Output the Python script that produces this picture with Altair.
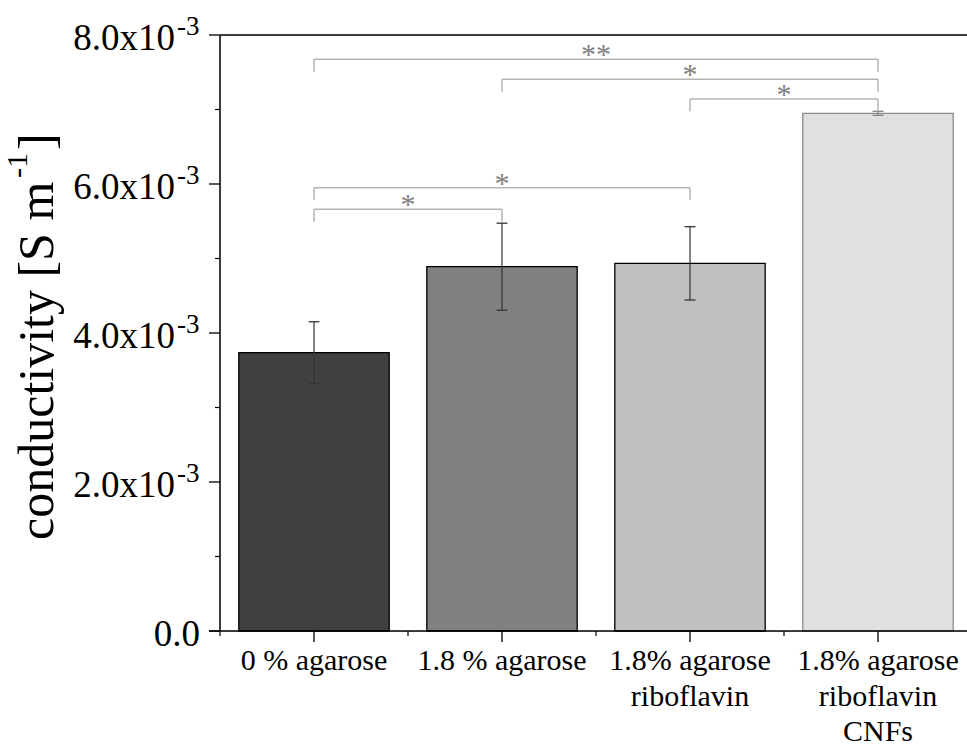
import altair as alt
import pandas as pd

# ---- data ----
categories = ["0 % agarose", "1.8 % agarose", "1.8% agarose\nriboflavin", "1.8% agarose\nriboflavin\nCNFs"]
positions = [1, 2, 3, 4]
conductivity = [3.736e-3, 4.890e-3, 4.935e-3, 6.949e-3]
std_dev = [0.415e-3, 0.584e-3, 0.492e-3, 0.027e-3]

y_tick_values = [0.0, 0.002, 0.004, 0.006, 0.008]
y_tick_base = ["0.0", "2.0x10", "4.0x10", "6.0x10", "8.0x10"]
y_tick_exp = ["", "-3", "-3", "-3", "-3"]
y_minor_values = [0.001, 0.003, 0.005, 0.007]
x_minor_values = [0.5, 1.5, 2.5, 3.5]

br_start = [1, 2, 3, 1, 1]
br_end = [4, 4, 4, 3, 2]
br_level = [7.674e-3, 7.405e-3, 7.141e-3, 5.950e-3, 5.660e-3]
br_label = ["**", "*", "*", "*", "*"]

# ---- styles ----
fill_colors = ["#404040", "#808080", "#c0c0c0", "#e0e0e0"]
stroke_colors = ["#000000", "#000000", "#000000", "#8c8c8c"]
err_colors = ["#333333", "#333333", "#333333", "#808080"]
FONT = "Liberation Serif"
W, H = 747, 596

bars = pd.DataFrame({
    "cat": categories, "pos": positions, "val": conductivity, "sd": std_dev,
    "fill": fill_colors, "stroke": stroke_colors, "ecol": err_colors,
})
yticks = pd.DataFrame({"v": y_tick_values, "base": y_tick_base, "exp": y_tick_exp})
yminor = pd.DataFrame({"v": y_minor_values})
xminor = pd.DataFrame({"v": x_minor_values})
xmajor = pd.DataFrame({"v": positions})
brackets = pd.DataFrame({"s": br_start, "e": br_end, "lvl": br_level, "lab": br_label})
one = pd.DataFrame({"a": [0]})

xscale = alt.Scale(domain=[0.5, 0.5 + W / 188.0], nice=False, zero=False)
yscale = alt.Scale(domain=[0, 0.008], nice=False, zero=False)

bar_layer = alt.Chart(bars).transform_calculate(
    x0="datum.pos - 0.4", x1="datum.pos + 0.4", z="0"
).mark_bar(strokeWidth=1.3).encode(
    x=alt.X("x0:Q", scale=xscale, axis=None),
    x2="x1:Q",
    y=alt.Y("val:Q", scale=yscale, axis=None),
    y2="z:Q",
    color=alt.Color("fill:N", scale=None),
    stroke=alt.Stroke("stroke:N", scale=None),
)

err_line = alt.Chart(bars).transform_calculate(
    lo="datum.val - datum.sd", hi="datum.val + datum.sd"
).mark_rule(strokeWidth=1.2).encode(
    x=alt.X("pos:Q", scale=xscale, axis=None),
    y=alt.Y("lo:Q", scale=yscale, axis=None),
    y2="hi:Q",
    color=alt.Color("ecol:N", scale=None),
)

err_caps = alt.Chart(bars).transform_calculate(
    lo="datum.val - datum.sd", hi="datum.val + datum.sd"
).transform_fold(["lo", "hi"], as_=["k", "yv"]).transform_calculate(
    c0="datum.pos - 0.029", c1="datum.pos + 0.029"
).mark_rule(strokeWidth=1.3).encode(
    x=alt.X("c0:Q", scale=xscale, axis=None),
    x2="c1:Q",
    y=alt.Y("yv:Q", scale=yscale, axis=None),
    color=alt.Color("ecol:N", scale=None),
)

# axis lines and frame
y_domain = alt.Chart(one).mark_rule(color="black", strokeWidth=1.5).encode(
    x=alt.value(0), y=alt.value(0), y2=alt.value(H))
x_domain = alt.Chart(one).mark_rule(color="black", strokeWidth=1.5).encode(
    x=alt.value(-11), x2=alt.value(W), y=alt.value(H))
top_border = alt.Chart(one).mark_rule(color="black", strokeWidth=1.6).encode(
    x=alt.value(0), x2=alt.value(W), y=alt.value(0))

ymaj_ticks = alt.Chart(yticks).mark_rule(color="black", strokeWidth=1.3).encode(
    y=alt.Y("v:Q", scale=yscale, axis=None), x=alt.value(-11), x2=alt.value(0))
ymin_ticks = alt.Chart(yminor).mark_rule(color="black", strokeWidth=1.2).encode(
    y=alt.Y("v:Q", scale=yscale, axis=None), x=alt.value(-5), x2=alt.value(0))
xmaj_ticks = alt.Chart(xmajor).mark_rule(color="black", strokeWidth=1.3).encode(
    x=alt.X("v:Q", scale=xscale, axis=None), y=alt.value(H), y2=alt.value(H + 11))
xmin_ticks = alt.Chart(xminor).mark_rule(color="black", strokeWidth=1.2).encode(
    x=alt.X("v:Q", scale=xscale, axis=None), y=alt.value(H), y2=alt.value(H + 5))

ylab_base = alt.Chart(yticks).transform_filter("datum.exp != ''").mark_text(
    font=FONT, fontSize=37, align="right", baseline="alphabetic", dy=15, color="black"
).encode(y=alt.Y("v:Q", scale=yscale, axis=None), x=alt.value(-45), text="base:N")
ylab_exp = alt.Chart(yticks).transform_filter("datum.exp != ''").mark_text(
    font=FONT, fontSize=27, align="left", baseline="alphabetic", dy=0, color="black"
).encode(y=alt.Y("v:Q", scale=yscale, axis=None), x=alt.value(-43), text="exp:N")
ylab_zero = alt.Chart(yticks).transform_filter("datum.exp == ''").mark_text(
    font=FONT, fontSize=37, align="right", baseline="alphabetic", dy=15, color="black"
).encode(y=alt.Y("v:Q", scale=yscale, axis=None), x=alt.value(-20), text="base:N")

xlabels = alt.Chart(bars).mark_text(
    font=FONT, fontSize=30, align="center", baseline="alphabetic",
    lineBreak="\n", lineHeight=35.5, color="black"
).encode(x=alt.X("pos:Q", scale=xscale, axis=None), y=alt.value(635), text="cat:N")

title_df = pd.DataFrame({"t": ["conductivity [S m"], "s": ["-1"], "b": ["]"]})
title_main = alt.Chart(title_df).mark_text(
    font=FONT, fontSize=50, angle=270, align="left", baseline="alphabetic", color="black"
).encode(x=alt.value(-167), y=alt.value(505), text="t:N")
title_sup = alt.Chart(title_df).mark_text(
    font=FONT, fontSize=30, angle=270, align="left", baseline="alphabetic", color="black"
).encode(x=alt.value(-193), y=alt.value(143), text="s:N")
title_end = alt.Chart(title_df).mark_text(
    font=FONT, fontSize=50, angle=270, align="left", baseline="alphabetic", color="black"
).encode(x=alt.value(-167), y=alt.value(115), text="b:N")

br_h = alt.Chart(brackets).mark_rule(color="#b4b4b4", strokeWidth=1.5).encode(
    x=alt.X("s:Q", scale=xscale, axis=None), x2="e:Q",
    y=alt.Y("lvl:Q", scale=yscale, axis=None),
)
br_legs = alt.Chart(brackets).transform_fold(["s", "e"], as_=["side", "xv"]).transform_calculate(
    bottom="datum.lvl - 0.000166"
).mark_rule(color="#b4b4b4", strokeWidth=1.5).encode(
    x=alt.X("xv:Q", scale=xscale, axis=None),
    y=alt.Y("lvl:Q", scale=yscale, axis=None), y2="bottom:Q",
)
br_text = alt.Chart(brackets).transform_calculate(
    mid="(datum.s + datum.e) / 2"
).mark_text(font=FONT, fontSize=30, color="#808080", align="center", baseline="alphabetic", dy=5).encode(
    x=alt.X("mid:Q", scale=xscale, axis=None),
    y=alt.Y("lvl:Q", scale=yscale, axis=None),
    text="lab:N",
)

chart = alt.layer(
    bar_layer, err_line, err_caps,
    y_domain, x_domain, top_border, ymaj_ticks, ymin_ticks, xmaj_ticks, xmin_ticks,
    ylab_base, ylab_exp, ylab_zero, xlabels, title_main, title_sup, title_end,
    br_h, br_legs, br_text,
).properties(
    width=W, height=H,
    autosize=alt.AutoSizeParams(type="none"),
    padding={"left": 220, "top": 35, "right": 0, "bottom": 118},
).configure_view(stroke=None).configure(background="white")

chart.save("out.html", embed_options={"renderer": "svg", "actions": False})
